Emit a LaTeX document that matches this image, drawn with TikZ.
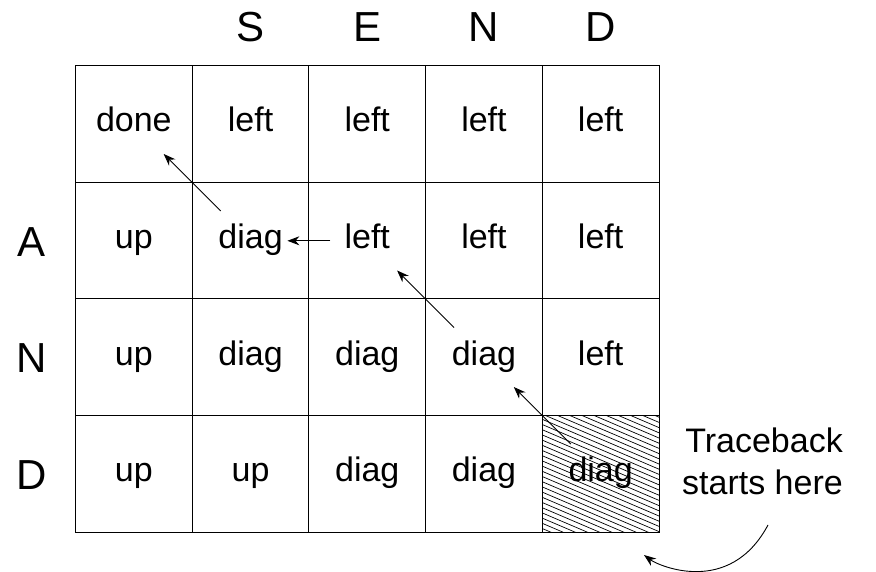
\documentclass[tikz,border=0pt]{standalone}
\usepackage{fontspec}
\setmainfont{Liberation Sans}
\usetikzlibrary{arrows.meta}

\begin{document}
\begin{tikzpicture}[x=1pt, y=-1pt, >={Stealth[length=12pt,width=9pt]},
    cell/.style={anchor=base, inner sep=0pt, font=\fontsize{34}{42}\selectfont},
    head/.style={anchor=base, inner sep=0pt, font=\fontsize{42}{48}\selectfont}]
    \useasboundingbox (0,0) rectangle (876,572);
    % hatched cell where the traceback starts
    \begin{scope}
        \clip (542.3,415.5) rectangle (659,532);
        \foreach \k in {0,...,34}
            \draw[line width=0.7pt] (542,362+\k*5.2) -- ++(117,50);
    \end{scope}
    % grid and cell entries
    \foreach \row [count=\j from 0] in {{done,left,left,left,left},{up,diag,left,left,left},{up,diag,diag,diag,left},{up,up,diag,diag,diag}}
        \foreach \val [count=\i from 0] in \row {
            \draw[line width=1pt] (75.5+116.7*\i,66+116.5*\j) rectangle ++(116.7,116.5);
            \coordinate (k-\j-\i) at (75.5+116.7*\i,66+116.5*\j);
            \node[cell] (c-\j-\i) at (133.85+116.7*\i,132+116.5*\j) {\val};
        }
    % sequence letters
    \foreach \h [count=\i from 1] in {S,E,N,D}
        \node[head] (col-\i) at (133.85+116.7*\i,41.7) {\h};
    \foreach \h [count=\j from 1] in {A,N,D}
        \node[head] (row-\j) at (31.7,139.8+116.5*\j) {\h};
    % traceback path
    \draw[->, line width=0.9pt] ([shift={(28.5,28.5)}]k-3-4) -- ([shift={(-28.5,-28.5)}]k-3-4);
    \draw[->, line width=0.9pt] ([shift={(28.5,28.5)}]k-2-3) -- ([shift={(-28.5,-28.5)}]k-2-3);
    \draw[->, line width=0.9pt] ([shift={(-14,-7.7)}]c-1-2.base west) -- ([shift={(4.5,-7.7)}]c-1-1.base east);
    \draw[->, line width=0.9pt] ([shift={(28.5,28.5)}]k-1-1) -- ([shift={(-28.5,-28.5)}]k-1-1);
    % note
    \node[cell, anchor=east, align=right] (note) at (843,461.7) {Traceback\\starts here};
    \coordinate (from) at (768,525);
    \coordinate (to) at (644,555);
    \draw[->, line width=0.9pt] (from) .. controls (729.6,596.9) and (658.4,565.8) .. (to);
\end{tikzpicture}
\end{document}
